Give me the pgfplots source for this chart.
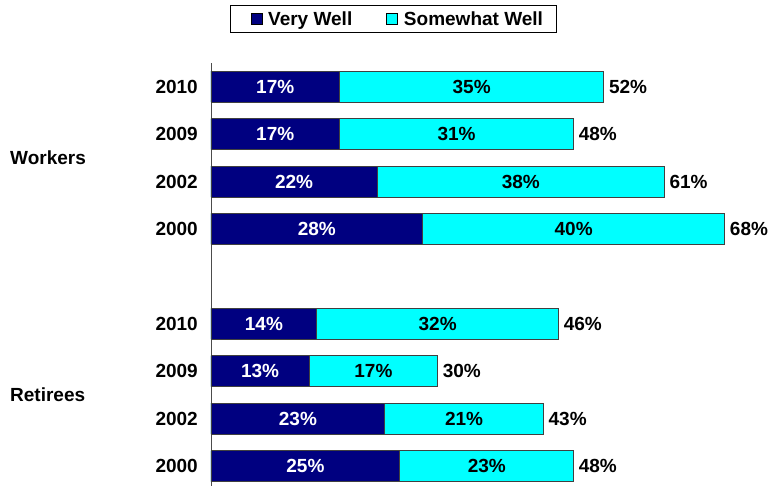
\documentclass[border=0pt]{standalone}
\usepackage{pgfplots}
\pgfplotsset{compat=1.18}
\usepackage{pgfplotstable}
\usepackage{fontspec}
\setmainfont{Liberation Sans}
\definecolor{vwc}{RGB}{0,0,128}
\definecolor{swc}{RGB}{0,255,255}
\pgfplotstableread{
y vw sw tot
8 17 35 52
7 17 31 48
6 22 38 61
5 28 40 68
3 14 32 46
2 13 17 30
1 23 21 43
0 25 23 48
}\data
\begin{document}
\begin{tikzpicture}[font=\fontsize{19}{22}\selectfont\bfseries]
\begin{axis}[
  scale only axis, width=544pt, height=423pt,
  xmin=0, xmax=72, ymin=-0.42, ymax=8.5,
  axis x line=none, axis y line*=left,
  y axis line style={-, black!70, line width=0.8pt},
  ytick={0,1,2,3,5,6,7,8},
  yticklabels={2000,2002,2009,2010,2000,2002,2009,2010},
  major tick length=0pt,
  yticklabel style={font=\fontsize{19}{22}\selectfont\bfseries, inner sep=0pt, xshift=-13pt},
  /pgf/number format/assume math mode=true,
  clip=false,
  legend columns=2,
  legend style={at={(rel axis cs:0.035,1.137)}, anchor=north west, draw=black, line width=0.8pt,
    font=\fontsize{19}{22}\selectfont\bfseries, inner xsep=11pt, inner ysep=4pt,
    /tikz/every odd column/.append style={column sep=4pt},
    /tikz/every even column/.append style={column sep=23pt}},
]
\addlegendimage{legend image code/.code={\path (0pt,0pt); \draw[fill=vwc, draw=black, line width=0.6pt] (9pt,-5.5pt) rectangle (20pt,5.5pt);}}
\addlegendentry{Very Well}
\addlegendimage{legend image code/.code={\path (0pt,0pt); \draw[fill=swc, draw=black, line width=0.6pt] (9pt,-5.5pt) rectangle (20pt,5.5pt);}}
\addlegendentry{Somewhat Well}
\addplot[xbar, bar width=31pt, bar shift=0pt, fill=swc, draw=black!75, line width=0.8pt, forget plot] table[x expr=\thisrow{vw}+\thisrow{sw}, y=y]{\data};
\addplot[xbar, bar width=31pt, bar shift=0pt, fill=vwc, draw=black!75, line width=0.8pt, forget plot] table[x=vw, y=y]{\data};
% labels
\addplot[only marks, mark=none, forget plot, point meta=\thisrow{vw},
  nodes near coords={\pgfmathprintnumber{\pgfplotspointmeta}\%},
  every node near coord/.append style={anchor=center, text=white, font=\fontsize{19}{22}\selectfont\bfseries}]
  table[x expr=\thisrow{vw}/2, y=y]{\data};
\addplot[only marks, mark=none, forget plot, point meta=\thisrow{sw},
  nodes near coords={\pgfmathprintnumber{\pgfplotspointmeta}\%},
  every node near coord/.append style={anchor=center, text=black, font=\fontsize{19}{22}\selectfont\bfseries}]
  table[x expr=\thisrow{vw}+\thisrow{sw}/2, y=y]{\data};
\addplot[only marks, mark=none, forget plot, point meta=\thisrow{tot},
  nodes near coords={\pgfmathprintnumber{\pgfplotspointmeta}\%},
  every node near coord/.append style={anchor=west, inner sep=0pt, xshift=5pt, text=black, font=\fontsize{19}{22}\selectfont\bfseries}]
  table[x expr=\thisrow{vw}+\thisrow{sw}, y=y]{\data};
\node[anchor=west, inner sep=0pt] at ([xshift=-201pt]axis cs:0,6.5) {Workers};
\node[anchor=west, inner sep=0pt] at ([xshift=-201pt]axis cs:0,1.5) {Retirees};
\coordinate (O) at (rel axis cs:0,0);
\end{axis}
\path ([shift={(-211pt,-1pt)}]O) rectangle ([shift={(560pt,486pt)}]O);
\end{tikzpicture}
\end{document}
